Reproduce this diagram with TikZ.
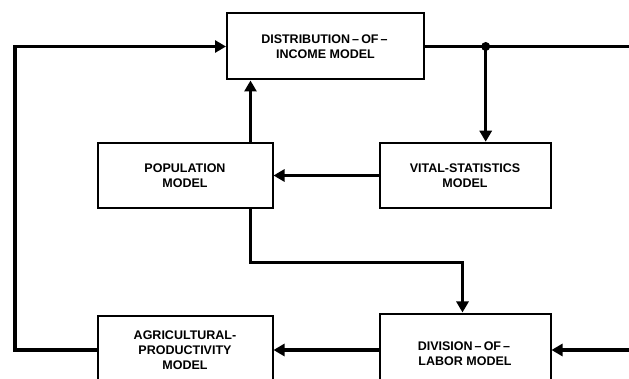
\documentclass[tikz,border=0pt]{standalone}
\usepackage{fontspec}
\setmainfont{Liberation Sans}
\usetikzlibrary{arrows.meta}
\newcommand{\dd}{\,–\,}
\tikzset{
  model/.style={draw, line width=2pt, align=center, inner sep=0pt,
    font=\bfseries\fontsize{12.5}{15}\selectfont},
  flow/.style={line width=3.5pt},
  arr/.style={flow, -{Triangle[length=11pt,width=12pt]}},
}
\begin{document}
\begin{tikzpicture}[x=1pt,y=-1pt]
\useasboundingbox (0,0) rectangle (629,379);
\clip (0,0) rectangle (629,379);
\node[model, minimum width=197pt, minimum height=66pt] (dist) at (325.5,46.5) {DISTRIBUTION\dd OF\dd\\INCOME MODEL};
\node[model, minimum width=175pt, minimum height=65pt] (pop) at (185,176) {POPULATION\\MODEL};
\node[model, minimum width=171pt, minimum height=65.5pt] (vital) at (465,175.5) {VITAL-STATISTICS\\MODEL};
\node[model, minimum width=171pt, minimum height=73pt, text depth=0pt] (div) at (465,350) {\raisebox{2pt}{\begin{tabular}{@{}c@{}}DIVISION\dd OF\dd\\LABOR MODEL\end{tabular}}};
\node[model, minimum width=175pt, minimum height=68pt] (agri) at (185,350) {AGRICULTURAL-\\PRODUCTIVITY\\MODEL};
\coordinate (xl) at (15,0);
\coordinate (xp) at (250.5,0);
\coordinate (dot) at (485.7,46.5);
\coordinate (rtop) at (629,46.5);
\coordinate (rbot) at (629,350);
\coordinate (bend) at (462.5,262.3);
% left feedback loop
\draw[arr] (agri.west) -- (xl |- agri.west) |- (dist.west);
% top right output
\draw[flow] (dist.east) -- (rtop);
\fill (dot) circle (4.5pt);
\draw[arr] (dot) -- (dot |- vital.north);
% population to distribution
\draw[arr] (xp |- pop.north) -- (xp |- dist.south);
% vital to population
\draw[arr] (vital.west) -- (vital.west -| pop.east);
% population to division
\draw[arr] (xp |- pop.south) |- (bend) -- (bend |- div.north);
% division to agricultural
\draw[arr] (div.west) -- (agri.east);
% right input
\draw[arr] (rbot) -- (div.east);
\end{tikzpicture}
\end{document}
